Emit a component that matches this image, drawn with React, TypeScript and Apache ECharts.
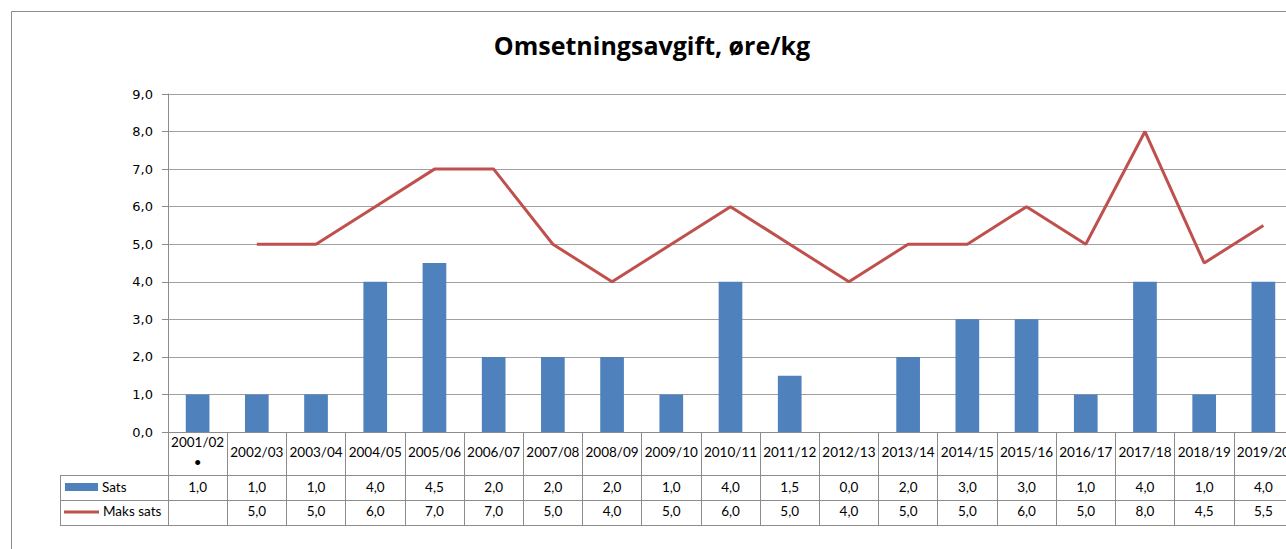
import React, { useEffect, useRef } from "react";
import * as echarts from "echarts";

const categories = [
  "2001/02\n•", "2002/03", "2003/04", "2004/05", "2005/06", "2006/07", "2007/08",
  "2008/09", "2009/10", "2010/11", "2011/12", "2012/13", "2013/14", "2014/15",
  "2015/16", "2016/17", "2017/18", "2018/19", "2019/20",
];
const sats = [1.0, 1.0, 1.0, 4.0, 4.5, 2.0, 2.0, 2.0, 1.0, 4.0, 1.5, 0.0, 2.0, 3.0, 3.0, 1.0, 4.0, 1.0, 4.0];
const maksSats: (number | null)[] = [null, 5.0, 5.0, 6.0, 7.0, 7.0, 5.0, 4.0, 5.0, 6.0, 5.0, 4.0, 5.0, 5.0, 6.0, 5.0, 8.0, 4.5, 5.5];
const seriesNames = ["Sats", "Maks sats"];
const title = "Omsetningsavgift, øre/kg";

const fmt = (v: number | null | undefined) =>
  v === null || v === undefined ? "" : v.toFixed(1).replace(".", ",");

const BLUE = "#4F81BD";
const RED = "#C0504D";
const GRAY = "#8c8c8c";
const TABLE_FONT = "Lato";

export default function App() {
  const ref = useRef<HTMLDivElement>(null);
  useEffect(() => {
    if (!ref.current) return;
    const chart = echarts.init(ref.current, undefined, { renderer: "svg" });
    const tableLabel = {
      fontFamily: TABLE_FONT,
      fontSize: 13.5,
      color: "#000",
      verticalAlign: "middle" as const,
      interval: 0,
    };
    chart.setOption({
      animation: false,
      backgroundColor: "#fff",
      grid: {
        left: 168,
        top: 94,
        width: 1125,
        height: 338,
        containLabel: false,
        outerBoundsMode: "none",
      },
      xAxis: [
        {
          type: "category",
          data: categories,
          position: "bottom",
          axisLine: { show: true, lineStyle: { color: GRAY, width: 1 } },
          axisTick: { show: true, length: 93, interval: 0, lineStyle: { color: GRAY, width: 1 } },
          axisLabel: { ...tableLabel, margin: 20, lineHeight: 20, align: "center" },
          splitLine: { show: false },
        },
        {
          type: "category",
          data: categories,
          position: "bottom",
          axisLine: { show: false },
          axisTick: { show: false },
          axisLabel: { ...tableLabel, margin: 55, formatter: (_v: string, i: number) => fmt(sats[i]) },
          splitLine: { show: false },
        },
        {
          type: "category",
          data: categories,
          position: "bottom",
          axisLine: { show: false },
          axisTick: { show: false },
          axisLabel: { ...tableLabel, margin: 79, formatter: (_v: string, i: number) => fmt(maksSats[i]) },
          splitLine: { show: false },
        },
      ],
      yAxis: {
        type: "value",
        min: 0,
        max: 9,
        interval: 1,
        axisLine: { show: true, lineStyle: { color: GRAY, width: 1 } },
        axisTick: { show: true, length: 6, lineStyle: { color: GRAY } },
        axisLabel: {
          margin: 15,
          fontFamily: "DejaVu Sans",
          fontSize: 13,
          color: "#000",
          formatter: (v: number) => fmt(v),
        },
        splitLine: { show: true, lineStyle: { color: "#a0a0a0", width: 1 } },
      },
      series: [
        {
          name: seriesNames[0],
          type: "bar",
          data: sats,
          barWidth: "40%",
          itemStyle: { color: BLUE },
          xAxisIndex: 0,
        },
        {
          name: seriesNames[1],
          type: "line",
          data: maksSats,
          symbol: "none",
          connectNulls: false,
          lineStyle: { color: RED, width: 3 },
          itemStyle: { color: RED },
          xAxisIndex: 0,
        },
      ],
      graphic: [
        {
          type: "rect",
          shape: { x: 11.5, y: 11.5, width: 1400, height: 700 },
          style: { fill: "none", stroke: GRAY, lineWidth: 1 },
          silent: true,
        },
        {
          type: "text",
          x: 652,
          y: 45,
          style: {
            text: title,
            textAlign: "center",
            textVerticalAlign: "middle",
            fontFamily: "Open Sans",
            fontWeight: "bold",
            fontSize: 25,
            fill: "#000",
          },
        },
        { type: "line", shape: { x1: 60, y1: 475.5, x2: 1400, y2: 475.5 }, style: { stroke: GRAY, lineWidth: 1 } },
        { type: "line", shape: { x1: 60, y1: 500.5, x2: 1400, y2: 500.5 }, style: { stroke: GRAY, lineWidth: 1 } },
        { type: "line", shape: { x1: 60, y1: 525.5, x2: 1400, y2: 525.5 }, style: { stroke: GRAY, lineWidth: 1 } },
        { type: "line", shape: { x1: 60.5, y1: 475, x2: 60.5, y2: 526 }, style: { stroke: GRAY, lineWidth: 1 } },
        { type: "rect", shape: { x: 65, y: 483, width: 33, height: 8 }, style: { fill: BLUE } },
        { type: "line", shape: { x1: 64, y1: 512, x2: 99, y2: 512 }, style: { stroke: RED, lineWidth: 3 } },
        {
          type: "text",
          x: 102,
          y: 487,
          style: { text: seriesNames[0], fontFamily: TABLE_FONT, fontSize: 13.5, fill: "#000", textVerticalAlign: "middle" },
        },
        {
          type: "text",
          x: 103,
          y: 511,
          style: { text: seriesNames[1], fontFamily: TABLE_FONT, fontSize: 13.5, fill: "#000", textVerticalAlign: "middle" },
        },
      ],
    });
    return () => chart.dispose();
  }, []);
  return (
    <div
      ref={ref}
      style={{ position: "absolute", left: 0, top: 0, width: 1286, height: 549, overflow: "hidden" }}
    />
  );
}
